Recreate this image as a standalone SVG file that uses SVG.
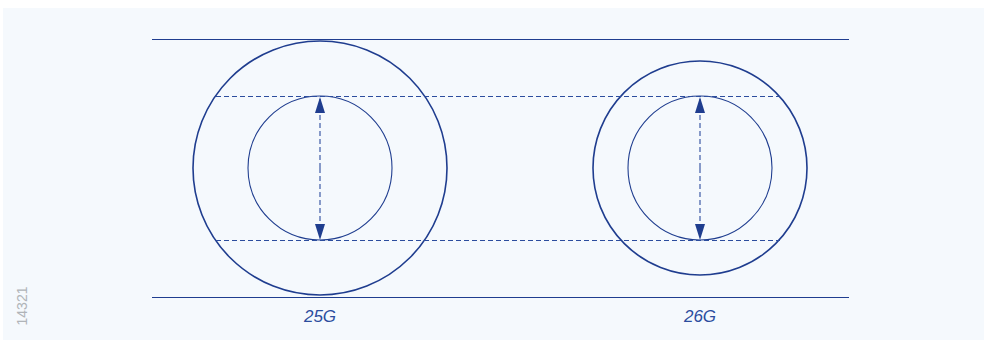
<svg xmlns="http://www.w3.org/2000/svg" width="987" height="340" viewBox="0 0 987 340">
<style>
.rule{stroke:#1f3d8f;stroke-width:1.2;fill:none}
.outer{stroke:#1f3d8f;stroke-width:1.6;fill:none}
.inner{stroke:#1f3d8f;stroke-width:1.1;fill:none}
.dash{stroke:#2c4d9e;stroke-width:1.1;stroke-dasharray:5 3;fill:none}
.lbl{font-family:"Liberation Sans",Arial,sans-serif;font-size:17px;font-style:italic;fill:#2c4d9e;text-anchor:middle}
.id{font-family:"Liberation Sans",Arial,sans-serif;font-size:14px;fill:#b0b4b8;text-anchor:middle}
</style>
<defs>
<marker id="ah2" viewBox="0 0 16 10" refX="16" refY="5" markerWidth="16" markerHeight="12" markerUnits="userSpaceOnUse" orient="auto">
<path d="M0,0 L16,5 L0,10 Z" fill="#1f3d8f"/>
</marker>
</defs>
<rect x="3" y="8" width="981" height="332" fill="#f5f9fd"/>
<g id="rules">
<line class="rule" x1="152" y1="39.5" x2="849" y2="39.5"/>
<line class="rule" x1="152" y1="297.5" x2="849" y2="297.5"/>
</g>
<g id="node-25G">
<circle class="outer" cx="320" cy="168" r="127"/>
<circle class="inner" cx="320" cy="168" r="72"/>
<text class="lbl" x="320" y="322">25G</text>
</g>
<g id="node-26G">
<circle class="outer" cx="700" cy="168" r="107"/>
<circle class="inner" cx="700" cy="168" r="72"/>
<text class="lbl" x="700" y="322">26G</text>
</g>
<g id="connectors">
<line class="dash" x1="216" y1="96.5" x2="780" y2="96.5"/>
<line class="dash" x1="216" y1="240.5" x2="780" y2="240.5"/>
<line class="dash" x1="320" y1="168" x2="320" y2="97" marker-end="url(#ah2)"/>
<line class="dash" x1="320" y1="168" x2="320" y2="240" marker-end="url(#ah2)"/>
<line class="dash" x1="700" y1="168" x2="700" y2="97" marker-end="url(#ah2)"/>
<line class="dash" x1="700" y1="168" x2="700" y2="240" marker-end="url(#ah2)"/>
</g>
<text class="id" transform="translate(27,306) rotate(-90)">14321</text>
</svg>
